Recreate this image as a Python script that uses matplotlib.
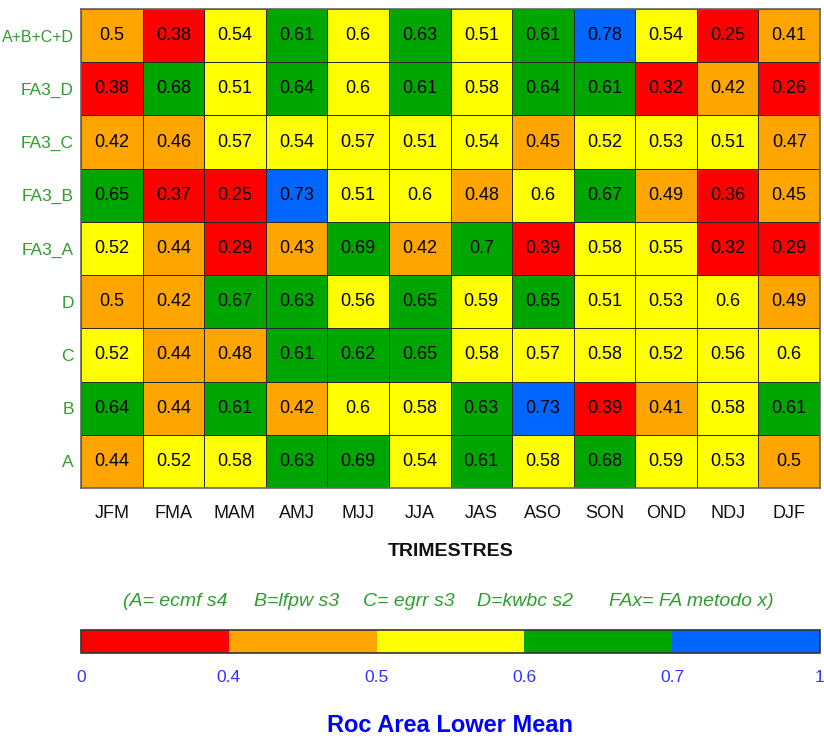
import matplotlib
matplotlib.use("Agg")
import matplotlib.pyplot as plt
from matplotlib.colors import ListedColormap, BoundaryNorm
import numpy as np

plt.rcParams["font.family"] = ["Liberation Sans", "DejaVu Sans"]

trimestres = ["JFM", "FMA", "MAM", "AMJ", "MJJ", "JJA", "JAS", "ASO", "SON", "OND", "NDJ", "DJF"]
# bottom to top
modelos = ["A", "B", "C", "D", "FA3_A", "FA3_B", "FA3_C", "FA3_D", "A+B+C+D"]

# values as read (shown rounded to 2 decimals); 0.498 / 0.598 / 0.698 sit just
# under a class limit, as their cell colour shows
roc_A = [0.44, 0.52, 0.58, 0.63, 0.69, 0.54, 0.61, 0.58, 0.68, 0.59, 0.53, 0.498]
roc_B = [0.64, 0.44, 0.61, 0.42, 0.598, 0.58, 0.63, 0.73, 0.39, 0.41, 0.58, 0.61]
roc_C = [0.52, 0.44, 0.48, 0.61, 0.62, 0.65, 0.58, 0.57, 0.58, 0.52, 0.56, 0.598]
roc_D = [0.498, 0.42, 0.67, 0.63, 0.56, 0.65, 0.59, 0.65, 0.51, 0.53, 0.598, 0.49]
roc_FA3_A = [0.52, 0.44, 0.29, 0.43, 0.69, 0.42, 0.698, 0.39, 0.58, 0.55, 0.32, 0.29]
roc_FA3_B = [0.65, 0.37, 0.25, 0.73, 0.51, 0.598, 0.48, 0.598, 0.67, 0.49, 0.36, 0.45]
roc_FA3_C = [0.42, 0.46, 0.57, 0.54, 0.57, 0.51, 0.54, 0.45, 0.52, 0.53, 0.51, 0.47]
roc_FA3_D = [0.38, 0.68, 0.51, 0.64, 0.598, 0.61, 0.58, 0.64, 0.61, 0.32, 0.42, 0.26]
roc_ABCD = [0.498, 0.38, 0.54, 0.61, 0.598, 0.63, 0.51, 0.61, 0.78, 0.54, 0.25, 0.41]

limites = [0, 0.4, 0.5, 0.6, 0.7, 1]
limites_txt = ["0", "0.4", "0.5", "0.6", "0.7", "1"]
colores = ["#ff0000", "#ffa500", "#ffff00", "#00a600", "#0066ff"]

leyenda = ["(A= ecmf s4", "B=lfpw s3", "C= egrr s3", "D=kwbc s2", "FAx= FA metodo x)"]
leyenda_x = [123, 254, 363, 477, 609]  # left edge of each piece, px

data = np.array([roc_A, roc_B, roc_C, roc_D, roc_FA3_A, roc_FA3_B,
                 roc_FA3_C, roc_FA3_D, roc_ABCD])

cmap = ListedColormap(colores)
norm = BoundaryNorm(limites, cmap.N)

W, H = 824, 740
fig = plt.figure(figsize=(W / 100, H / 100), dpi=100)
ax = fig.add_axes([81 / W, 1 - 488 / H, 739 / W, 479 / H])

mesh = ax.pcolormesh(data, cmap=cmap, norm=norm, edgecolors="#2a2a2a", linewidth=0.6)

for i in range(data.shape[0]):
    for j in range(data.shape[1]):
        txt = f"{data[i, j]:.2f}".rstrip("0").rstrip(".")
        ax.text(j + 0.5, i + 0.5, txt, ha="center", va="center", fontsize=13, color="black")

ax.set_xticks(np.arange(len(trimestres)) + 0.5)
ax.set_xticklabels(trimestres)
ax.set_yticks(np.arange(len(modelos)) + 0.5)
ax.set_yticklabels(modelos)
ax.tick_params(axis="x", length=0, pad=12, labelsize=13, labelcolor="#111111")
ax.tick_params(axis="y", length=0, pad=5, labelsize=12.5, labelcolor="#2e9e2e")
# longest label would run off the left edge at full size
ax.get_yticklabels()[-1].set_fontsize(11.5)
for s in ax.spines.values():
    s.set_color("#666666")
    s.set_linewidth(1.2)

fig.text(450.5 / W, 1 - 551 / H, "TRIMESTRES", ha="center", va="center",
         fontsize=14, fontweight="bold", color="#111111")

for txt, x in zip(leyenda, leyenda_x):
    fig.text(x / W, 1 - 601 / H, txt, ha="left", va="center",
             fontsize=14, style="italic", color="#2e9e2e")

cax = fig.add_axes([81 / W, 1 - 653 / H, 739 / W, 23 / H])
cb = fig.colorbar(mesh, cax=cax, orientation="horizontal", spacing="uniform", ticks=limites)
cb.ax.set_xticklabels(limites_txt)
cb.ax.tick_params(length=0, pad=12, labelsize=12.5, labelcolor="#3333ff")
cb.outline.set_edgecolor("#333333")
cb.outline.set_linewidth(1.2)

fig.text(450.5 / W, 1 - 725 / H, "Roc Area Lower Mean", ha="center", va="center",
         fontsize=17, fontweight="bold", color="#0000ff")

fig.savefig("out.png", dpi=100)
